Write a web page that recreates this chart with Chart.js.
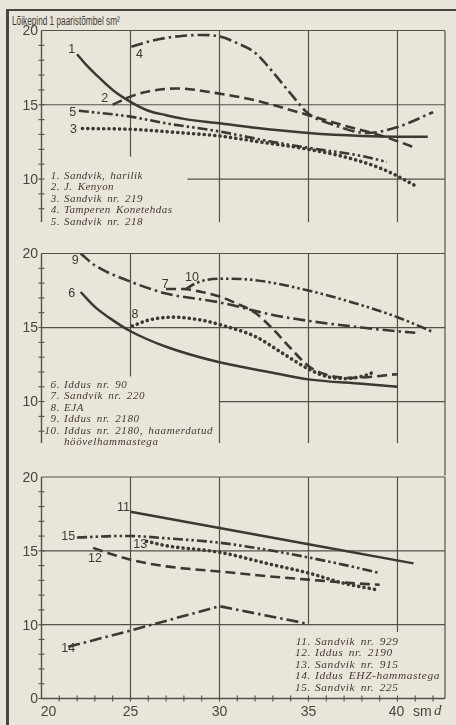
<!DOCTYPE html>
<html lang="et">
<head>
<meta charset="UTF-8">
<title>Lõikepind 1 paaristõmbel</title>
<script src="https://cdn.jsdelivr.net/npm/chart.js"></script>
<style>
  body { margin: 0; background: #e9e5da; }
  #page { position: relative; width: 456px; height: 725px; overflow: hidden; background: #e9e5da; color: #433d39; }
  #frame { position: absolute; left: 6px; top: 9px; width: 470px; height: 740px;
           border-left: 3px solid #4a4541; border-top: 2px solid #4a4541; }
  canvas { position: absolute; left: 0; top: 0; }
  #title { position: absolute; left: 12px; top: 14px; font-family: 'Liberation Sans', sans-serif;
           font-size: 12.5px; transform: scaleX(0.66); transform-origin: left top; white-space: nowrap; color: #3f3a36; }
  .legend { position: absolute; font-family: 'Liberation Serif', serif; font-style: italic;
            font-size: 11px; letter-spacing: 0.6px; word-spacing: 2px; color: #433836; white-space: nowrap; }
  .legend div { height: 11.4px; line-height: 11.4px; }
  .legend span.n { display: inline-block; text-align: right; margin-right: 4px; }
</style>
</head>
<body>
<div id="page">
  <div id="frame"></div>
  <div id="title">Lõikepind 1 paaristõmbel sm²</div>
  <canvas id="c1" width="456" height="725"></canvas>
  <canvas id="c2" width="456" height="725"></canvas>
  <canvas id="c3" width="456" height="725"></canvas>
  <div class="legend" id="lg1" style="left:50px; top:170px; letter-spacing:0.45px;"></div>
  <div class="legend" id="lg2" style="left:44px; top:379px;"></div>
  <div class="legend" id="lg3" style="left:295px; top:636px; font-size:11.4px;"></div>
</div>

<script>
const X_MIN = 20, X_MAX = 42.67;

// ülemine paneel
const p1Names = ['Sandvik, harilik', 'J. Kenyon', 'Sandvik nr. 219', 'Tamperen Konetehdas', 'Sandvik nr. 218'];
const s1x = [22, 22.5, 23, 24, 25, 26, 27, 28, 30, 32, 35, 38, 40, 41.7];
const s1y = [18.4, 17.7, 17.1, 16.0, 15.2, 14.6, 14.3, 14.05, 13.75, 13.45, 13.1, 12.9, 12.85, 12.85];
const s2x = [24, 25, 26, 27.6, 30, 32, 35, 37, 39, 40, 41];
const s2y = [15.0, 15.55, 15.9, 16.1, 15.75, 15.3, 14.3, 13.6, 12.95, 12.55, 12.1];
const s3x = [22.3, 25, 28, 30, 32, 35, 37, 39, 40, 41];
const s3y = [13.4, 13.35, 13.1, 12.9, 12.55, 12.0, 11.5, 10.75, 10.2, 9.55];
const s4x = [25.05, 26, 27, 28, 29.1, 30, 31, 32, 33, 34, 35, 36.4, 38.3, 40, 42];
const s4y = [18.9, 19.25, 19.5, 19.65, 19.7, 19.6, 19.15, 18.5, 17.2, 15.75, 14.4, 13.65, 13.1, 13.5, 14.5];
const s5x = [22.1, 25, 27, 30, 33, 35, 38, 39.4];
const s5y = [14.6, 14.2, 13.75, 13.2, 12.5, 12.1, 11.55, 11.15];

// keskmine paneel
const p2Names = ['Iddus nr. 90', 'Sandvik nr. 220', 'EJA', 'Iddus nr. 2180', 'Iddus nr. 2180, haamerdatud'];
const s6x = [22.2, 23, 24, 25, 27, 30, 33, 35, 38, 40];
const s6y = [17.4, 16.4, 15.5, 14.75, 13.7, 12.65, 11.95, 11.5, 11.2, 11.0];
const s7x = [27, 28, 29, 30, 31, 32, 33, 34, 35, 36.2, 37.4, 40];
const s7y = [17.6, 17.6, 17.4, 17.1, 16.6, 16.0, 14.9, 13.6, 12.4, 11.75, 11.6, 11.85];
const s8x = [25.1, 26, 27.4, 29, 30, 32, 33.5, 35, 36, 37, 38, 38.6];
const s8y = [15.1, 15.5, 15.7, 15.5, 15.2, 14.4, 13.3, 12.2, 11.7, 11.55, 11.7, 11.95];
const s9x = [22.2, 23, 25, 27, 30, 33, 35, 38, 40, 41];
const s9y = [20.0, 19.2, 18.1, 17.3, 16.7, 15.85, 15.45, 15.0, 14.75, 14.65];
const s10x = [28.1, 28.6, 29.2, 30, 32, 35, 38, 40, 42];
const s10y = [17.6, 17.95, 18.2, 18.3, 18.2, 17.5, 16.5, 15.7, 14.7];

// alumine paneel
const p3Names = ['Sandvik nr. 929', 'Iddus nr. 2190', 'Sandvik nr. 915', 'Iddus EHZ-hammastega', 'Sandvik nr. 225'];
const s11x = [25, 30, 35, 40.9];
const s11y = [17.65, 16.55, 15.45, 14.15];
const s12x = [22.9, 24, 25, 27, 30, 33, 35, 37, 39];
const s12y = [15.2, 14.75, 14.4, 13.95, 13.6, 13.25, 13.05, 12.85, 12.7];
const s13x = [25.9, 27, 30, 33, 35, 37, 38.9];
const s13y = [15.65, 15.35, 14.9, 14.05, 13.5, 12.8, 12.35];
const s14x = [21.5, 25, 30, 35];
const s14y = [8.5, 9.6, 11.25, 10.05];
const s15x = [22, 23, 24, 25, 27, 30, 33, 35, 37, 39];
const s15y = [15.9, 15.95, 16.0, 16.0, 15.85, 15.55, 15.0, 14.55, 14.05, 13.5];

// kõverate numbrid joonisel
const p1Tags = [['1', 21.7, 18.7], ['2', 23.55, 15.4], ['3', 21.8, 13.35], ['4', 25.5, 18.4], ['5', 21.75, 14.5]];
const p2Tags = [['6', 21.7, 17.3], ['7', 26.95, 17.9], ['8', 25.25, 15.85], ['9', 21.9, 19.5], ['10', 28.45, 18.4]];
const p3Tags = [['11', 24.6, 17.9], ['12', 23.0, 14.5], ['13', 25.55, 15.4], ['14', 21.5, 8.4], ['15', 21.5, 15.95]];

const INK = '#3d3834';
const GRID = '#56504b';

const lineStyles = [
  { borderDash: [], borderWidth: 2.5, borderCapStyle: 'butt' },
  { borderDash: [10, 5], borderWidth: 2.6, borderCapStyle: 'butt' },
  { borderDash: [0.1, 5.2], borderWidth: 3.6, borderCapStyle: 'round' },
  { borderDash: [12, 4, 2.5, 4], borderWidth: 2.6, borderCapStyle: 'butt' },
  { borderDash: [10, 3, 2.5, 3, 2.5, 3], borderWidth: 2.6, borderCapStyle: 'butt' }
];

const panelPlugin = {
  id: 'panel',
  beforeDatasetsDraw(chart, args, opts) {
    const { ctx, scales: { x, y } } = chart;
    ctx.save();
    ctx.strokeStyle = GRID;
    ctx.lineWidth = 1.2;
    opts.h.forEach(([v, a, b]) => {
      ctx.beginPath();
      ctx.moveTo(x.getPixelForValue(a), y.getPixelForValue(v));
      ctx.lineTo(x.getPixelForValue(b), y.getPixelForValue(v));
      ctx.stroke();
    });
    opts.v.forEach(([v, a, b]) => {
      ctx.beginPath();
      ctx.moveTo(x.getPixelForValue(v), y.getPixelForValue(a));
      ctx.lineTo(x.getPixelForValue(v), y.getPixelForValue(b));
      ctx.stroke();
    });
    // vasak telg koos ristkriipsudega
    const x0 = x.getPixelForValue(X_MIN);
    ctx.lineWidth = 1.4;
    ctx.beginPath();
    ctx.moveTo(x0, y.getPixelForValue(20));
    ctx.lineTo(x0, y.getPixelForValue(opts.axisBottom));
    ctx.stroke();
    ctx.lineWidth = 1.1;
    for (let t = Math.ceil(opts.axisBottom); t < 20; t++) {
      const py = y.getPixelForValue(t);
      ctx.beginPath(); ctx.moveTo(x0 - 3, py); ctx.lineTo(x0 + 3, py); ctx.stroke();
    }
    if (opts.xAxis) {
      const py = y.getPixelForValue(opts.axisBottom);
      ctx.lineWidth = 1.4;
      ctx.beginPath(); ctx.moveTo(x0, py); ctx.lineTo(x.getPixelForValue(X_MAX), py); ctx.stroke();
      ctx.lineWidth = 1.1;
      for (let t = 21; t < X_MAX; t++) {
        const px = x.getPixelForValue(t);
        ctx.beginPath(); ctx.moveTo(px, py - 3); ctx.lineTo(px, py + 3); ctx.stroke();
      }
    }
    // telje numbrid
    ctx.fillStyle = '#4a4541';
    ctx.font = '14px "Liberation Sans", sans-serif';
    ctx.textAlign = 'right';
    ctx.textBaseline = 'middle';
    opts.yLabels.forEach(([v, txt]) => ctx.fillText(txt, 38, y.getPixelForValue(v) + 1));
    if (opts.xAxis) {
      ctx.textAlign = 'center';
      ctx.textBaseline = 'middle';
      const py = y.getPixelForValue(opts.axisBottom) + 14;
      opts.xLabels.forEach(([v, txt, dx]) => ctx.fillText(txt, x.getPixelForValue(v) + dx, py));
      ctx.textAlign = 'left';
      ctx.fillText('sm', 413, py);
      ctx.font = 'italic 15px "Liberation Serif", serif';
      ctx.fillText('d', 434, py - 1);
    }
    ctx.restore();
  },
  afterDatasetsDraw(chart, args, opts) {
    const { ctx, scales: { x, y } } = chart;
    ctx.save();
    ctx.fillStyle = INK;
    ctx.font = '12.5px "Liberation Sans", sans-serif';
    ctx.textAlign = 'center';
    ctx.textBaseline = 'middle';
    opts.tags.forEach(([txt, vx, vy]) => ctx.fillText(txt, x.getPixelForValue(vx), y.getPixelForValue(vy)));
    ctx.restore();
  }
};

function makeChart(id, xs, ys, top, bottom, yMin, grid) {
  return new Chart(document.getElementById(id), {
    type: 'line',
    data: {
      datasets: xs.map((xv, i) => Object.assign({
        data: xv.map((v, k) => ({ x: v, y: ys[i][k] })),
        borderColor: INK,
        pointRadius: 0,
        fill: false,
        tension: grid.straight && grid.straight.includes(i) ? 0 : 0.4,
        cubicInterpolationMode: grid.straight && grid.straight.includes(i) ? 'default' : 'monotone'
      }, lineStyles[i]))
    },
    options: {
      responsive: false,
      animation: false,
      events: [],
      layout: { padding: { left: 41.5, right: 11, top: top, bottom: 725 - bottom } },
      scales: {
        x: { type: 'linear', min: X_MIN, max: X_MAX, display: false },
        y: { type: 'linear', min: yMin, max: 20, display: false }
      },
      plugins: { legend: { display: false }, tooltip: { enabled: false }, panel: grid }
    },
    plugins: [panelPlugin]
  });
}

makeChart('c1', [s1x, s2x, s3x, s4x, s5x], [s1y, s2y, s3y, s4y, s5y], 30.5, 223.6, 7, {
  h: [[20, 20, X_MAX], [15, 20, X_MAX], [10, 28.2, X_MAX]],
  v: [[25, 20, 11.5], [30, 20, 7.1], [35, 20, 7.1], [40, 20, 7.1], [X_MAX, 20, 5]],
  axisBottom: 7.1, yLabels: [[20, '20'], [15, '15'], [10, '10']], xAxis: false, tags: p1Tags
});
makeChart('c2', [s6x, s7x, s8x, s9x, s10x], [s6y, s7y, s8y, s9y, s10y], 253.5, 446, 7, {
  h: [[20, 20, X_MAX], [15, 20, X_MAX], [10, 30, X_MAX]],
  v: [[25, 20, 11.7], [30, 20, 7.2], [35, 20, 7.2], [40, 20, 7.2], [X_MAX, 20, 5]],
  axisBottom: 7.2, yLabels: [[20, '20'], [15, '15'], [10, '10']], xAxis: false, tags: p2Tags
});
makeChart('c3', [s11x, s12x, s13x, s14x, s15x], [s11y, s12y, s13y, s14y, s15y], 477, 698.5, 5, {
  h: [[20, 20, X_MAX], [15, 20, X_MAX], [10, 20, X_MAX]],
  v: [[25, 20, 5], [30, 20, 5], [35, 20, 10], [40, 20, 9.5], [X_MAX, 20, 5]],
  axisBottom: 5, yLabels: [[20, '20'], [15, '15'], [10, '10'], [5, '0']], xAxis: true,
  xLabels: [[20, '20', 7], [25, '25', 0], [30, '30', 0], [35, '35', 0], [40, '40', -1]],
  tags: p3Tags, straight: [0, 3]
});

function fillLegend(id, names, first, extra) {
  const box = document.getElementById(id);
  names.forEach((nm, i) => {
    const row = document.createElement('div');
    const n = document.createElement('span');
    n.className = 'n';
    n.style.width = id === 'lg1' ? '10px' : '16px';
    n.textContent = (first + i) + '.';
    row.appendChild(n);
    row.appendChild(document.createTextNode(nm));
    box.appendChild(row);
  });
  if (extra) {
    const row = document.createElement('div');
    row.style.paddingLeft = '20px';
    row.textContent = extra;
    box.appendChild(row);
  }
}
fillLegend('lg1', p1Names, 1);
fillLegend('lg2', p2Names, 6, 'höövelhammastega');
fillLegend('lg3', p3Names, 11);
</script>
</body>
</html>
